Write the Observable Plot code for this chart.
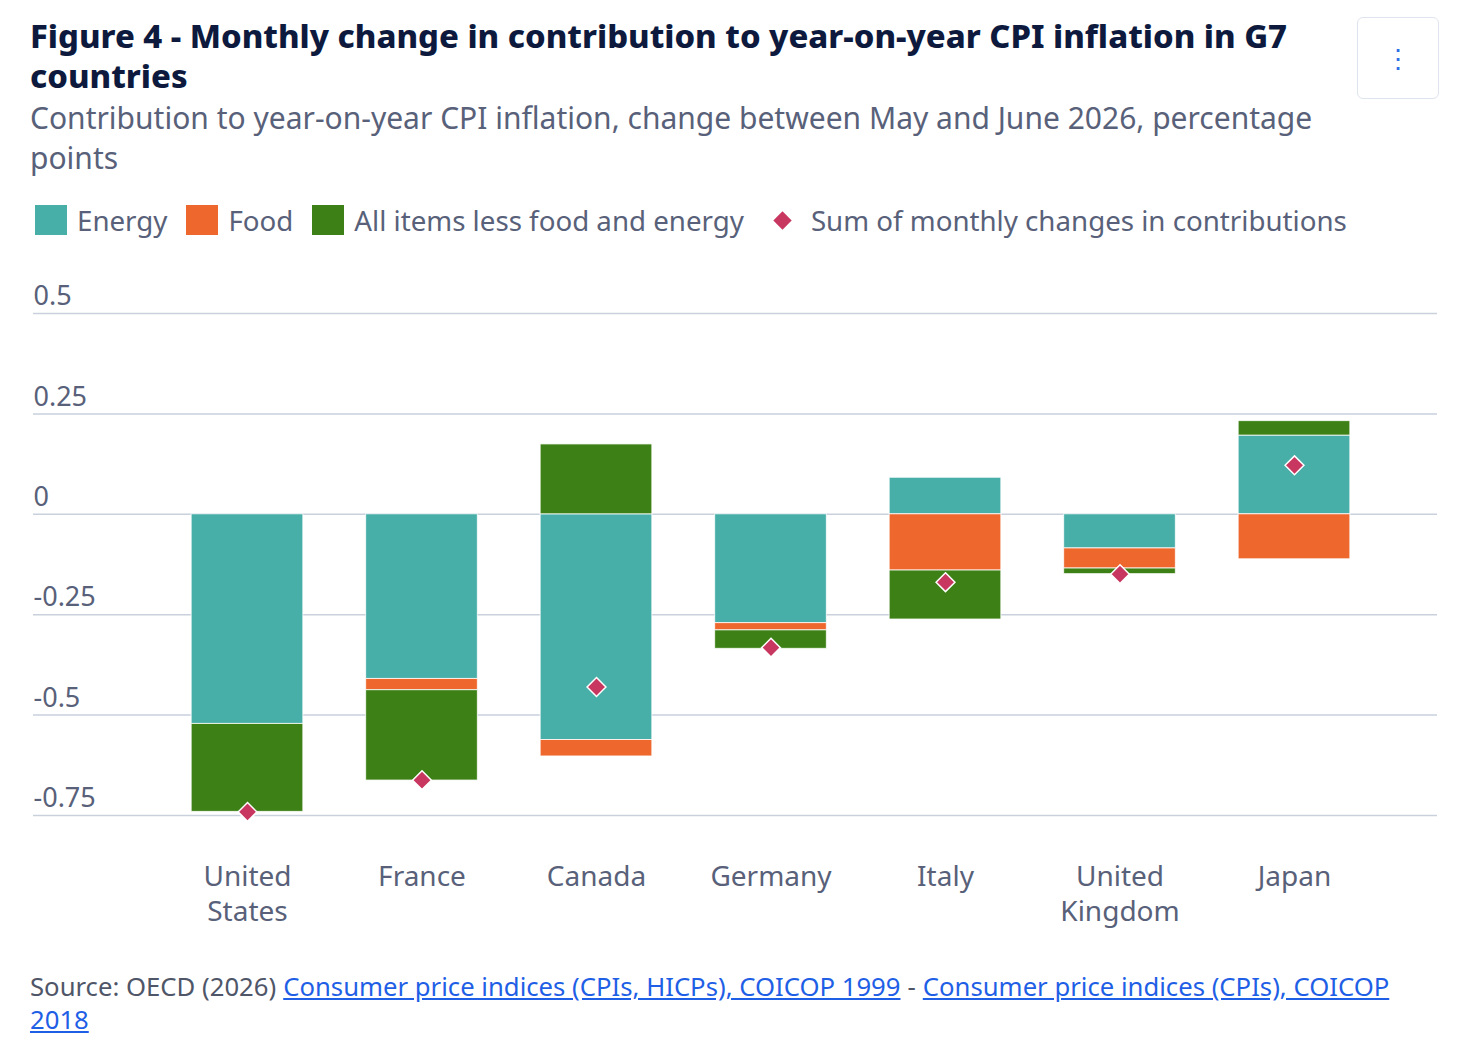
<!DOCTYPE html>
<html>
<head>
<meta charset="utf-8">
<script src="https://cdn.jsdelivr.net/npm/d3@7"></script>
<script src="https://cdn.jsdelivr.net/npm/@observablehq/plot@0.6"></script>
<style>
  html, body { margin: 0; padding: 0; background: #fff; }
  #wrap { position: relative; width: 1459px; height: 1048px; font-family: "Noto Sans", sans-serif; overflow: hidden; }
  #title { position: absolute; left: 30px; top: 16px; width: 1310px; font-size: 32.8px; line-height: 40px; font-weight: 800; color: #0d1a3e; }
  #subtitle { position: absolute; left: 30px; top: 98px; width: 1340px; font-size: 30px; line-height: 40px; color: #586179; }
  #menu { position: absolute; left: 1357px; top: 17px; width: 82px; height: 82px; border: 1px solid #dfe5ee; border-radius: 6px; box-sizing: border-box; display: flex; align-items: center; justify-content: center; color: #2a6ee8; font-size: 26px; }
  #legend { position: absolute; left: 35px; top: 200px; height: 40px; display: flex; align-items: center; font-size: 27.7px; color: #586179; white-space: nowrap; }
  .item { display: flex; align-items: center; margin-right: 19px; }
  .sw { width: 32px; height: 30px; margin-right: 10px; }
  .dia { width: 13px; height: 13px; transform: rotate(45deg); background: #c8375f; margin: 0 22px 0 13px; }
  #chart { position: absolute; left: 0; top: 250px; }
  .src { position: absolute; left: 30px; font-size: 25.7px; line-height: 33px; color: #4f5668; white-space: nowrap; display: flex; }
  .src span, .src a { display: inline-block; }
  .src a { color: #1f5fe6; text-decoration: underline; }
  .gap { width: 7px; }
</style>
</head>
<body>
<div id="wrap">
  <div id="title">Figure 4 - Monthly change in contribution to year-on-year CPI inflation in G7 countries</div>
  <div id="subtitle">Contribution to year-on-year CPI inflation, change between May and June 2026, percentage points</div>
  <div id="menu">⋮</div>
  <div id="legend"></div>
  <div id="chart"></div>
  <div class="src" style="top:970px"><span>Source: OECD (2026)</span><span class="gap"></span><a href="#">Consumer price indices (CPIs, HICPs), COICOP 1999</a><span class="gap"></span><span>-</span><span class="gap"></span><a href="#">Consumer price indices (CPIs), COICOP</a></div>
  <div class="src" style="top:1003px"><a href="#">2018</a></div>
</div>
<script>
const countries = ["United States", "France", "Canada", "Germany", "Italy", "United Kingdom", "Japan"];
const countryLabels = ["United\nStates", "France", "Canada", "Germany", "Italy", "United\nKingdom", "Japan"];
const seriesNames = ["Energy", "Food", "All items less food and energy"];
const seriesColors = ["#47aea8", "#ee672d", "#3d8116"];
const sumName = "Sum of monthly changes in contributions";
const sumColor = "#c8375f";

const energy = [-0.522, -0.410, -0.562, -0.271, 0.091, -0.085, 0.196];
const food   = [0.000, -0.028, -0.041, -0.018, -0.140, -0.050, -0.112];
const alfe   = [-0.219, -0.225, 0.174, -0.046, -0.122, -0.014, 0.036];
const sumChanges = [-0.741, -0.662, -0.430, -0.332, -0.169, -0.149, 0.122];

const yTicks = [0.5, 0.25, 0, -0.25, -0.5, -0.75];
const yTickLabels = ["0.5", "0.25", "0", "-0.25", "-0.5", "-0.75"];

// Build tidy table
const seriesValues = [energy, food, alfe];
const bars = [];
countries.forEach((c, i) => {
  seriesNames.forEach((s, k) => {
    const v = seriesValues[k][i];
    if (v !== 0) bars.push({country: c, series: s, value: v});
  });
});
const sums = countries.map((c, i) => ({country: c, value: sumChanges[i]}));
const ticks = yTicks.map((t, i) => ({value: t, label: yTickLabels[i]}));
const xlabels = countries.map((c, i) => ({country: c, label: countryLabels[i]}));

// Legend
const legend = document.getElementById("legend");
seriesNames.forEach((s, k) => {
  const it = document.createElement("div");
  it.className = "item";
  it.innerHTML = `<div class="sw" style="background:${seriesColors[k]}"></div><span>${s}</span>`;
  legend.appendChild(it);
});
const it = document.createElement("div");
it.className = "item";
it.innerHTML = `<div class="dia"></div><span>${sumName}</span>`;
legend.appendChild(it);

const chart = Plot.plot({
  width: 1459,
  height: 690,
  marginLeft: 33,
  marginRight: 22,
  marginTop: 0,
  marginBottom: 0,
  style: {fontFamily: "Noto Sans", background: "transparent", overflow: "visible"},
  x: {type: "band", domain: countries, range: [159.75, 1381.25], paddingInner: 0.36, paddingOuter: 0.18, round: false, axis: null},
  y: {domain: [-0.75, 0.5], range: [565, 63], axis: null},
  color: {domain: seriesNames, range: seriesColors},
  marks: [
    Plot.ruleY(ticks, {y: "value", stroke: "#c9d1dc", strokeWidth: 1.5}),
    Plot.text(ticks, {y: "value", text: "label", frameAnchor: "left", textAnchor: "start", lineAnchor: "middle", dy: -17, fontSize: 27, fill: "#586179"}),
    Plot.barY(bars, Plot.stackY({x: "country", y: "value", fill: "series", order: null, stroke: "white", strokeWidth: 1, strokeOpacity: 0.8})),
    Plot.dot(sums, {x: "country", y: "value", symbol: d3.symbolDiamond2, r: 8.5, fill: sumColor, stroke: "white", strokeWidth: 1.5}),
    Plot.text(xlabels, {x: "country", y: () => -0.75, text: "label", lineAnchor: "top", dy: 46, fontSize: 28, lineHeight: 1.25, fill: "#586179"})
  ]
});
document.getElementById("chart").appendChild(chart);
</script>
</body>
</html>
